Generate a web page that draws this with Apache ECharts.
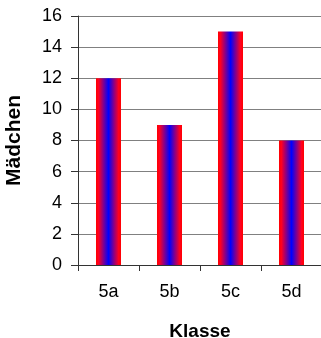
<!DOCTYPE html>
<html><head><meta charset="utf-8">
<script src="https://cdn.jsdelivr.net/npm/echarts@6/dist/echarts.min.js"></script>
<style>html,body{margin:0;padding:0;background:#fff}#c{width:321px;height:338px}</style>
</head><body><div id="c"></div>
<script>
const categories = ['5a', '5b', '5c', '5d'];
const values = [12, 9, 15, 8];
const xTitle = 'Klasse';
const yTitle = 'Mädchen';

const chart = echarts.init(document.getElementById('c'), null, {renderer: 'canvas'});
const font = 'Liberation Sans, Arial, sans-serif';
chart.setOption({
  animation: false,
  grid: {left: 78, right: -1, top: 16, bottom: 73, containLabel: false, outerBoundsMode: 'none'},
  xAxis: {
    type: 'category', data: categories,
    name: xTitle, nameLocation: 'middle', nameGap: 57,
    nameTextStyle: {fontFamily: font, fontSize: 19, fontWeight: 'bold', color: '#000'},
    axisLine: {lineStyle: {color: '#333', width: 1}},
    axisTick: {show: true, length: 6, lineStyle: {color: '#333'}},
    axisLabel: {fontFamily: font, fontSize: 18, color: '#000', margin: 18}
  },
  yAxis: {
    type: 'value', min: 0, max: 16, interval: 2,
    name: yTitle, nameLocation: 'middle', nameGap: 53, nameRotate: 90,
    nameTextStyle: {fontFamily: font, fontSize: 21, fontWeight: 'bold', color: '#000'},
    axisLine: {show: true, lineStyle: {color: '#333', width: 1}},
    axisTick: {show: true, length: 7, inside: false, lineStyle: {color: '#333'}},
    axisLabel: {fontFamily: font, fontSize: 18, color: '#000', margin: 16},
    splitLine: {lineStyle: {color: '#808080', width: 1}}
  },
  series: [{
    type: 'bar', data: values, barWidth: 25,
    itemStyle: {
      color: new echarts.graphic.LinearGradient(0, 0, 1, 0, [
        {offset: 0, color: '#ff0000'},
        {offset: 0.1, color: '#ff0020'},
        {offset: 0.5, color: '#0000ff'},
        {offset: 0.9, color: '#ff0020'},
        {offset: 1, color: '#ff0000'}
      ])
    }
  }]
});
</script></body></html>
